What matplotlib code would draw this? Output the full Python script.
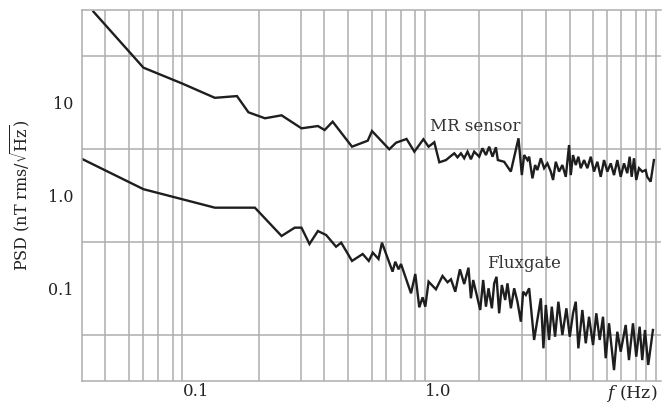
import matplotlib
matplotlib.use("Agg")
import matplotlib.pyplot as plt

plt.rcParams['font.family'] = ['DejaVu Serif']
plt.rcParams['mathtext.fontset'] = 'dejavuserif'

# ---- data ----
mr_freq = [0.0379, 0.0609, 0.0876, 0.120, 0.148, 0.165, 0.193, 0.226, 0.273, 0.319,
           0.340, 0.367, 0.441, 0.512, 0.533, 0.628, 0.670, 0.740, 0.797, 0.868,
           0.912, 0.963, 1.01, 1.076, 1.128, 1.164, 1.200, 1.240, 1.279, 1.320,
           1.363, 1.406, 1.475, 1.521, 1.572, 1.621, 1.673, 1.728, 1.760, 1.869,
           1.991, 2.141, 2.210, 2.259, 2.331, 2.369, 2.444, 2.507, 2.562, 2.647,
           2.731, 2.817, 2.909, 2.973, 3.050, 3.147, 3.247, 3.354, 3.460, 3.516,
           3.593, 3.687, 3.779, 3.866, 3.989, 4.116, 4.251, 4.385, 4.525, 4.673,
           4.822, 4.975, 5.138, 5.301, 5.470, 5.649, 5.828, 6.012, 6.150, 6.268,
           6.407, 6.546, 6.718, 6.930, 7.157, 7.266, 7.504, 7.742]
mr_psd = [96, 23.9, 16.2, 11.3, 11.8, 7.89, 6.80, 7.32, 5.30, 5.61,
          5.08, 6.25, 3.36, 3.90, 4.96, 3.15, 3.71, 4.07, 2.97, 4.04,
          3.36, 3.75, 2.28, 2.41, 2.67, 2.85, 2.58, 2.85, 2.52, 2.97,
          2.46, 2.97, 2.62, 3.23, 2.73, 3.36, 2.62, 3.31, 2.41, 2.31,
          1.81, 4.14, 1.66, 2.73, 2.41, 2.62, 1.53, 2.13, 1.88, 2.52,
          1.97, 2.22, 1.81, 1.47, 2.31, 1.81, 2.13, 1.59, 3.50, 1.66,
          2.73, 2.13, 2.62, 1.97, 2.41, 1.97, 2.62, 1.81, 2.31, 1.59,
          2.41, 1.81, 2.22, 1.66, 2.41, 1.59, 2.22, 1.74, 2.62, 1.59,
          2.52, 1.47, 1.97, 1.81, 1.88, 1.59, 1.41, 2.41]

fg_freq = [0.0340, 0.0609, 0.120, 0.1754, 0.226, 0.256, 0.273, 0.2945, 0.319, 0.345,
           0.379, 0.398, 0.441, 0.488, 0.517, 0.537, 0.567, 0.586, 0.648, 0.665,
           0.686, 0.702, 0.772, 0.804, 0.835, 0.862, 0.884, 0.912, 0.978, 1.041,
           1.092, 1.128, 1.175, 1.228, 1.279, 1.332, 1.363, 1.393, 1.489, 1.531,
           1.572, 1.611, 1.663, 1.700, 1.738, 1.782, 1.828, 1.887, 1.928, 1.992,
           2.055, 2.120, 2.190, 2.238, 2.296, 2.369, 2.483, 2.647, 2.713, 2.775,
           2.862, 2.937, 3.030, 3.126, 3.247, 3.373, 3.483, 3.593, 3.687, 3.779,
           3.925, 4.054, 4.182, 4.344, 4.481, 4.628, 4.775, 4.899, 5.056, 5.301,
           5.470, 5.649, 5.922, 6.109, 6.346, 6.546, 6.761, 6.930, 7.111, 7.336,
           7.670]
fg_psd = [2.48, 1.17, 0.739, 0.739, 0.366, 0.450, 0.450, 0.300, 0.414, 0.375,
          0.2805, 0.310, 0.197, 0.234, 0.197, 0.242, 0.207, 0.310, 0.151, 0.193,
          0.160, 0.1826, 0.0882, 0.1425, 0.0623, 0.0799, 0.0633, 0.1177, 0.0974, 0.1356,
          0.116, 0.1249, 0.0918, 0.160, 0.111, 0.1666, 0.0779, 0.1227, 0.0583, 0.1227,
          0.0633, 0.0999, 0.0608, 0.113, 0.133, 0.0537, 0.1084, 0.0747, 0.113, 0.0608,
          0.0999, 0.0716, 0.0436, 0.0918, 0.0846, 0.0999, 0.0277, 0.0779, 0.0225, 0.0660,
          0.0277, 0.0633, 0.0300, 0.0716, 0.0313, 0.0608, 0.0300, 0.0537, 0.0716, 0.0225,
          0.0583, 0.0255, 0.0493, 0.0244, 0.0537, 0.0277, 0.0493, 0.0176, 0.0419, 0.0131,
          0.0340, 0.0207, 0.0402, 0.0168, 0.0419, 0.0183, 0.0385, 0.0168, 0.0355, 0.0149,
          0.0355]

x_tick_vals = [0.1, 1.0]
x_tick_labels = ['0.1', '1.0']
y_tick_vals = [0.1, 1.0, 10]
y_tick_labels = ['0.1', '1.0', '10']

# grid lines as drawn in the reference
x_grid = [0.0422, 0.0530, 0.0605, 0.0698, 0.0804, 0.0876, 0.1, 0.1816, 0.2705, 0.3396,
          0.4262, 0.5351, 0.6109, 0.7042, 0.8040, 0.8843, 1.0, 1.475, 2.216, 2.783,
          3.493, 4.344, 4.960, 5.664, 6.530, 7.178, 7.90]
y_grid = [10 ** -1.5, 0.1, 10 ** -0.5, 1.0, 10 ** 0.5, 10, 10 ** 1.5]

# ---- figure ----
fig = plt.figure(figsize=(6.62, 4.04), dpi=100)
ax = fig.add_axes([82 / 662, 1 - 381 / 404, 579 / 662, 371 / 404])
ax.set_xscale('log')
ax.set_yscale('log')
ax.set_xlim(0.0340, 8.28)
ax.set_ylim(0.01, 100)

gcol = '#adadad'
ax.set_xticks(x_grid, minor=True)
ax.set_yticks(y_grid, minor=True)
ax.set_xticks(x_tick_vals + [6.30])
ax.set_xticklabels(x_tick_labels + ['$f$ (Hz)'])
ax.set_yticks(y_tick_vals)
ax.set_yticklabels(y_tick_labels)
ax.grid(False, which='major')
ax.grid(True, which='minor', color=gcol, linewidth=1.1)
ax.tick_params(which='both', length=0)
ax.tick_params(axis='x', which='major', pad=1.5, labelsize=12, labelcolor='#222222')
ax.tick_params(axis='y', which='major', pad=6, labelsize=11.5, labelcolor='#222222')
ax.tick_params(which='minor', labelleft=False, labelbottom=False)
ax.get_xticklabels()[2].set_fontsize(12.5)
for side in ['left', 'top', 'bottom']:
    ax.spines[side].set_color(gcol)
    ax.spines[side].set_linewidth(1.1)
ax.spines['right'].set_visible(False)

ax.plot(mr_freq, mr_psd, color='#1e1e1e', linewidth=1.7, solid_joinstyle='miter')
ax.plot(fg_freq, fg_psd, color='#1e1e1e', linewidth=1.7, solid_joinstyle='miter')

ax.text(1.42, 5.6, 'MR sensor', ha='center', va='center', fontsize=12, color='#333333')
ax.text(2.25, 0.185, 'Fluxgate', ha='center', va='center', fontsize=12, color='#333333')

fig.text(21 / 662, 1 - 195 / 404, r'PSD (nT rms/$\sqrt{\mathrm{Hz}}$)', rotation=90,
         ha='center', va='center', fontsize=11.5, color='#222222')

fig.savefig('out.png', dpi=100)
